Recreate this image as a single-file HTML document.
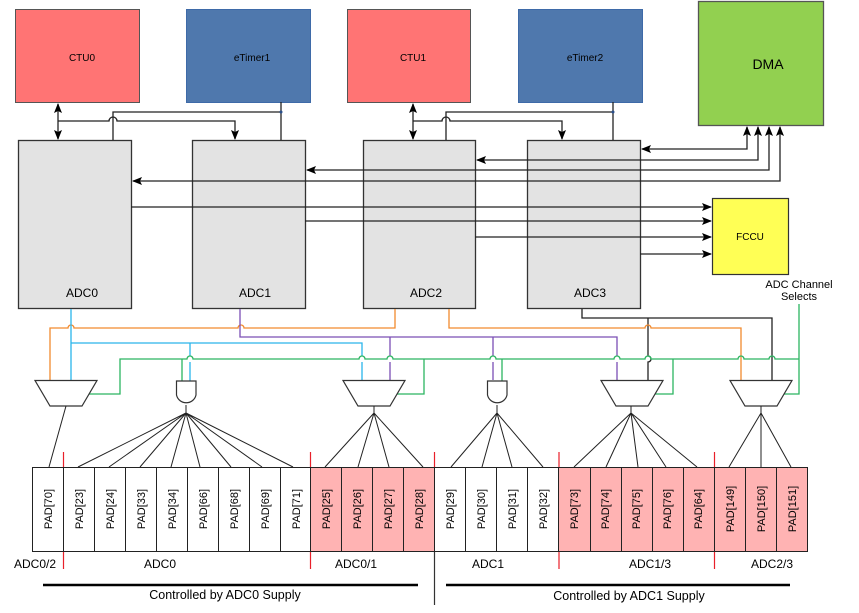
<!DOCTYPE html>
<html><head><meta charset="utf-8"><style>
html,body{margin:0;padding:0;background:#fff;}
svg{display:block;font-family:"Liberation Sans",sans-serif;}
</style></head><body>
<svg width="859" height="613" viewBox="0 0 859 613" xmlns="http://www.w3.org/2000/svg">
<defs>
<marker id="a" markerWidth="10" markerHeight="8" refX="9" refY="4" orient="auto" markerUnits="userSpaceOnUse"><path d="M0,0 L10,4 L0,8 L2,4 z" fill="#000"/></marker>
<marker id="as" markerWidth="10" markerHeight="8" refX="1" refY="4" orient="auto" markerUnits="userSpaceOnUse"><path d="M10,0 L0,4 L10,8 L8,4 z" fill="#000"/></marker>
</defs>
<rect x="15.5" y="9.5" width="124" height="93" fill="#ff7474" stroke="#555" stroke-width="1"/>
<text x="82" y="61" font-size="10" text-anchor="middle">CTU0</text>
<rect x="186.5" y="9.5" width="124" height="93" fill="#4f78ad" stroke="#3e6aa8" stroke-width="1"/>
<text x="252" y="61" font-size="10" text-anchor="middle">eTimer1</text>
<rect x="347.5" y="9.5" width="123" height="93" fill="#ff7474" stroke="#555" stroke-width="1"/>
<text x="413" y="61" font-size="10" text-anchor="middle">CTU1</text>
<rect x="518.5" y="9.5" width="124" height="93" fill="#4f78ad" stroke="#3e6aa8" stroke-width="1"/>
<text x="585" y="61" font-size="10" text-anchor="middle">eTimer2</text>
<rect x="698.5" y="1.5" width="125" height="124" fill="#92d050" stroke="#555" stroke-width="1.3"/>
<text x="768" y="69" font-size="14" text-anchor="middle">DMA</text>
<g fill="#e3e3e3" stroke="#333" stroke-width="1.3">
<rect x="18.5" y="140.5" width="113" height="168"/>
<rect x="192.5" y="140.5" width="113" height="168"/>
<rect x="363.5" y="140.5" width="112" height="168"/>
<rect x="527.5" y="140.5" width="113" height="168"/>
</g>
<g font-size="12" text-anchor="middle">
<text x="82" y="297">ADC0</text><text x="255" y="297">ADC1</text><text x="426" y="297">ADC2</text><text x="590" y="297">ADC3</text>
</g>
<rect x="712.5" y="198.5" width="76" height="76" fill="#ffff55" stroke="#333" stroke-width="1.2"/>
<text x="750" y="240" font-size="10" text-anchor="middle">FCCU</text>
<text x="799" y="288" font-size="11" text-anchor="middle">ADC Channel</text>
<text x="799" y="300" font-size="11" text-anchor="middle">Selects</text>
<g stroke="#222" stroke-width="1.3" fill="none">
<line x1="58" y1="104" x2="58" y2="139" marker-start="url(#as)" marker-end="url(#a)"/>
<path d="M58,121 H109 a4,4 0 0 1 8,0 H235 V139" marker-end="url(#a)"/>
<path d="M113,140 V112 H281"/><line x1="281" y1="102" x2="281" y2="140"/>
<line x1="413" y1="104" x2="413" y2="139" marker-start="url(#as)" marker-end="url(#a)"/>
<path d="M413,121 H442 a4,4 0 0 1 8,0 H562 V139" marker-end="url(#a)"/>
<path d="M446,140 V112 H613"/><line x1="613" y1="102" x2="613" y2="140"/>
<path d="M747,127 V149 H642" marker-start="url(#as)" marker-end="url(#a)"/>
<path d="M758,127 V160 H477" marker-start="url(#as)" marker-end="url(#a)"/>
<path d="M769,127 V170 H307" marker-start="url(#as)" marker-end="url(#a)"/>
<path d="M780,127 V181 H133" marker-start="url(#as)" marker-end="url(#a)"/>
<line x1="131" y1="207" x2="711" y2="207" marker-end="url(#a)"/>
<line x1="305" y1="221" x2="711" y2="221" marker-end="url(#a)"/>
<line x1="475" y1="237" x2="711" y2="237" marker-end="url(#a)"/>
<line x1="640" y1="254" x2="711" y2="254" marker-end="url(#a)"/>
</g>
<circle cx="281" cy="112" r="1.5" fill="#2a4f8a"/><circle cx="613" cy="112" r="1.5" fill="#2a4f8a"/>
<g fill="none" stroke-width="1.3">
<path stroke="#222" d="M582,309 V318 H772 V380 M648,318 V356 a3,3 0 0 1 0,6 V380"/>
<path stroke="#f28a2e" d="M395,309 V328 H244 a3,3 0 0 0 -6,0 H74 a3,3 0 0 0 -6,0 H50 V380"/>
<path stroke="#f28a2e" d="M449,309 V328 H645 a3,3 0 0 1 6,0 H741 V380"/>
<path stroke="#7b4fb5" d="M240,309 V337 H617 V356 M617,362 V380 M390,337 V356 M390,362 V380 M493,337 V356 M493,362 V380"/>
<path stroke="#2ab5ea" d="M71,309 V380 M71,343 H362 V356 M362,362 V380 M190,343 V356 M190,362 V381"/>
<path stroke="#2bb560" d="M88,394 H120 V359 H187 a3,3 0 0 1 6,0 H359 a3,3 0 0 1 6,0 H387 a3,3 0 0 1 6,0 H490 a3,3 0 0 1 6,0 H614 a3,3 0 0 1 6,0 H645 a3,3 0 0 1 6,0 H738 a3,3 0 0 1 6,0 H769 a3,3 0 0 1 6,0 H799 M182,359 V381 M424,359 V394 H397 M502,359 V381 M673,359 V394 H655 M799,304 V394 H784"/>
</g>
<g fill="#fff" stroke="#333" stroke-width="1.2">
<path d="M35,380.5 H97 L82,406 H50 Z"/>
<path d="M343,380.5 H405 L390,406 H358 Z"/>
<path d="M601,380.5 H663 L648,406 H616 Z"/>
<path d="M730,380.5 H792 L777,406 H745 Z"/>
<path d="M176.5,381 H196 V395 A10,10 0 0 1 176.5,395 Z"/>
<path d="M487.5,381 H507 V395 A10,10 0 0 1 487.5,395 Z"/>
</g>
<g stroke="#222" stroke-width="1" fill="none">
<line x1="66" y1="406" x2="49" y2="467"/>
<path d="M186,405 V413 M186,413 L78,467 M186,413 L109,467 M186,413 L140,467 M186,413 L171,467 M186,413 L200,467 M186,413 L231,467 M186,413 L262,467 M186,413 L293,467"/>
<path d="M374,406 V413 M374,413 L325,467 M374,413 L358,467 M374,413 L389,467 M374,413 L423,467"/>
<path d="M497,405 V413 M497,413 L451,467 M497,413 L482,467 M497,413 L512,467 M497,413 L543,467"/>
<path d="M631,406 V413 M631,413 L574,467 M631,413 L606,467 M631,413 L638,467 M631,413 L666,467 M631,413 L697,467"/>
<path d="M761,406 V413 M761,413 L729,467 M761,413 L761,467 M761,413 L791,467"/>
</g>
<g stroke="#222" stroke-width="1">
<rect x="32.5" y="467.5" width="278" height="84" fill="#fff"/>
<rect x="310.5" y="467.5" width="124" height="84" fill="#ffb3b3"/>
<rect x="434.5" y="467.5" width="124" height="84" fill="#fff"/>
<rect x="558.5" y="467.5" width="249" height="84" fill="#ffb3b3"/>
<path d="M63.5,467V551 M94.5,467V551 M125.5,467V551 M156.5,467V551 M187.5,467V551 M218.5,467V551 M249.5,467V551 M280.5,467V551 M341.5,467V551 M372.5,467V551 M403.5,467V551 M465.5,467V551 M496.5,467V551 M527.5,467V551 M590.5,467V551 M621.5,467V551 M652.5,467V551 M683.5,467V551 M714.5,467V551 M745.5,467V551 M776.5,467V551"/>
</g>
<g font-size="11" text-anchor="middle">
<text transform="translate(52,509) rotate(-90)">PAD[70]</text>
<text transform="translate(83,509) rotate(-90)">PAD[23]</text>
<text transform="translate(114,509) rotate(-90)">PAD[24]</text>
<text transform="translate(145,509) rotate(-90)">PAD[33]</text>
<text transform="translate(176,509) rotate(-90)">PAD[34]</text>
<text transform="translate(207,509) rotate(-90)">PAD[66]</text>
<text transform="translate(238,509) rotate(-90)">PAD[68]</text>
<text transform="translate(269,509) rotate(-90)">PAD[69]</text>
<text transform="translate(300,509) rotate(-90)">PAD[71]</text>
<text transform="translate(330,509) rotate(-90)">PAD[25]</text>
<text transform="translate(361,509) rotate(-90)">PAD[26]</text>
<text transform="translate(392,509) rotate(-90)">PAD[27]</text>
<text transform="translate(423,509) rotate(-90)">PAD[28]</text>
<text transform="translate(454,509) rotate(-90)">PAD[29]</text>
<text transform="translate(485,509) rotate(-90)">PAD[30]</text>
<text transform="translate(516,509) rotate(-90)">PAD[31]</text>
<text transform="translate(547,509) rotate(-90)">PAD[32]</text>
<text transform="translate(578,509) rotate(-90)">PAD[73]</text>
<text transform="translate(609,509) rotate(-90)">PAD[74]</text>
<text transform="translate(640,509) rotate(-90)">PAD[75]</text>
<text transform="translate(671,509) rotate(-90)">PAD[76]</text>
<text transform="translate(702,509) rotate(-90)">PAD[64]</text>
<text transform="translate(734,509) rotate(-90)">PAD[149]</text>
<text transform="translate(765,509) rotate(-90)">PAD[150]</text>
<text transform="translate(796,509) rotate(-90)">PAD[151]</text>
</g>
<g stroke="#e8202a" stroke-width="1.2">
<path d="M63.5,452V467 M63.5,552V569 M310.5,452V467 M310.5,552V569 M434.5,452V467 M559,452V467 M559,552V569 M714.5,452V467 M714.5,552V569"/>
</g>
<line x1="434.5" y1="552" x2="434.5" y2="605" stroke="#333" stroke-width="1.2"/>
<g font-size="12" text-anchor="middle">
<text x="35" y="568">ADC0/2</text>
<text x="160" y="568">ADC0</text>
<text x="356" y="568">ADC0/1</text>
<text x="488" y="568">ADC1</text>
<text x="650" y="568">ADC1/3</text>
<text x="772" y="568">ADC2/3</text>
</g>
<g stroke="#000" stroke-width="2.5">
<line x1="43" y1="585" x2="418" y2="585"/>
<line x1="446" y1="585" x2="790" y2="585"/>
</g>
<g font-size="12.5" text-anchor="middle">
<text x="225" y="599">Controlled by ADC0 Supply</text>
<text x="629" y="600">Controlled by ADC1 Supply</text>
</g>
</svg>
</body></html>
